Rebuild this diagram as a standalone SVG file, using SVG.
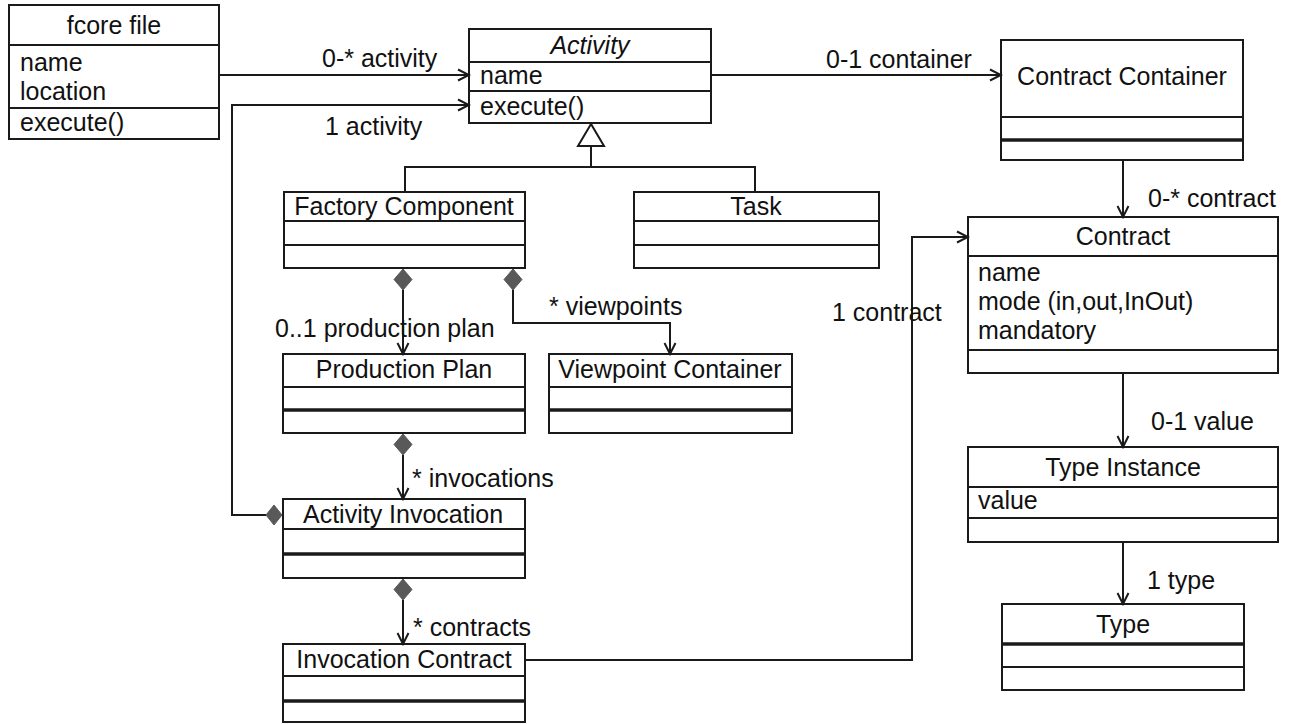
<svg xmlns="http://www.w3.org/2000/svg" width="1292" height="724" viewBox="0 0 1292 724">
<style>
.box{fill:#fff;stroke:#1a1a1a;stroke-width:2}
.div{stroke:#1a1a1a;stroke-width:2}
.thick{stroke:#1a1a1a;stroke-width:3.5}
text{font-family:"Liberation Sans",Arial,sans-serif;font-size:25px;fill:#111}
.c{text-anchor:middle}
.edge{fill:none;stroke:#1a1a1a;stroke-width:2}
.dia{fill:#595959;stroke:#595959;stroke-width:1}
</style>
<defs>
<marker id="open" markerUnits="userSpaceOnUse" markerWidth="14" markerHeight="14" viewBox="0 0 14 14" refX="12" refY="7" orient="auto">
<path d="M1,1.5 L12,7 L1,12.5" fill="none" stroke="#1a1a1a" stroke-width="2"/>
</marker>
</defs>
<rect width="1292" height="724" fill="#fff"/>

<g id="fcore-file">
<rect class="box" x="9" y="5" width="210" height="134"/>
<line class="div" x1="9" y1="45" x2="219" y2="45"/>
<line class="div" x1="9" y1="108" x2="219" y2="108"/>
<text class="c" x="114" y="34">fcore file</text>
<text x="20" y="71">name</text>
<text x="20" y="100">location</text>
<text x="20" y="131">execute()</text>
</g>

<g id="activity">
<rect class="box" x="469" y="29" width="242" height="94"/>
<line class="div" x1="469" y1="62" x2="711" y2="62"/>
<line class="div" x1="469" y1="91" x2="711" y2="91"/>
<text class="c" x="590" y="54" font-style="italic">Activity</text>
<text x="480" y="84">name</text>
<text x="480" y="115">execute()</text>
</g>

<g id="contract-container">
<rect class="box" x="1001" y="40" width="242" height="120"/>
<line class="div" x1="1001" y1="117" x2="1243" y2="117"/>
<line class="thick" x1="1001" y1="140" x2="1243" y2="140"/>
<text class="c" x="1122" y="85">Contract Container</text>
</g>

<g id="factory-component">
<rect class="box" x="284" y="192" width="241" height="76"/>
<line class="div" x1="284" y1="221" x2="525" y2="221"/>
<line class="div" x1="284" y1="245" x2="525" y2="245"/>
<text class="c" x="404" y="215">Factory Component</text>
</g>

<g id="task">
<rect class="box" x="634" y="192" width="245" height="76"/>
<line class="div" x1="634" y1="221" x2="879" y2="221"/>
<line class="div" x1="634" y1="245" x2="879" y2="245"/>
<text class="c" x="756" y="215">Task</text>
</g>

<g id="production-plan">
<rect class="box" x="283" y="354" width="242" height="79"/>
<line class="div" x1="283" y1="387" x2="525" y2="387"/>
<line class="thick" x1="283" y1="410" x2="525" y2="410"/>
<text class="c" x="404" y="378">Production Plan</text>
</g>

<g id="viewpoint-container">
<rect class="box" x="549" y="354" width="243" height="79"/>
<line class="div" x1="549" y1="387" x2="792" y2="387"/>
<line class="thick" x1="549" y1="410" x2="792" y2="410"/>
<text class="c" x="670" y="378">Viewpoint Container</text>
</g>

<g id="activity-invocation">
<rect class="box" x="283" y="499" width="242" height="79"/>
<line class="div" x1="283" y1="529" x2="525" y2="529"/>
<line class="thick" x1="283" y1="554" x2="525" y2="554"/>
<text class="c" x="403" y="523">Activity Invocation</text>
</g>

<g id="invocation-contract">
<rect class="box" x="283" y="644" width="242" height="78"/>
<line class="div" x1="283" y1="676" x2="525" y2="676"/>
<line class="thick" x1="283" y1="701" x2="525" y2="701"/>
<text class="c" x="404" y="668">Invocation Contract</text>
</g>

<g id="contract">
<rect class="box" x="968" y="217" width="310" height="156"/>
<line class="div" x1="968" y1="256" x2="1278" y2="256"/>
<line class="div" x1="968" y1="350" x2="1278" y2="350"/>
<text class="c" x="1123" y="245">Contract</text>
<text x="978" y="281">name</text>
<text x="978" y="310">mode (in,out,InOut)</text>
<text x="978" y="339">mandatory</text>
</g>

<g id="type-instance">
<rect class="box" x="968" y="447" width="310" height="95"/>
<line class="div" x1="968" y1="487" x2="1278" y2="487"/>
<line class="div" x1="968" y1="518" x2="1278" y2="518"/>
<text class="c" x="1123" y="476">Type Instance</text>
<text x="978" y="509">value</text>
</g>

<g id="type">
<rect class="box" x="1002" y="604" width="242" height="86"/>
<line class="thick" x1="1002" y1="644" x2="1244" y2="644"/>
<line class="div" x1="1002" y1="667" x2="1244" y2="667"/>
<text class="c" x="1123" y="633">Type</text>
</g>

<g id="connectors">
<path class="edge" d="M219,75 H469" marker-end="url(#open)"/>
<text x="322" y="67">0-* activity</text>

<path class="edge" d="M266,515 H232 V105 H469" marker-end="url(#open)"/>
<polygon class="dia" points="266,515 274,505 282,515 274,525"/>
<text x="325" y="135">1 activity</text>

<path class="edge" d="M711,75 H1001" marker-end="url(#open)"/>
<text x="826" y="68">0-1 container</text>

<path class="edge" d="M591,146 V167 M405,192 V167 H755 V192"/>
<polygon points="591,124 578,146 604,146" fill="#fff" stroke="#1a1a1a" stroke-width="2"/>

<path class="edge" d="M403,290 V354" marker-end="url(#open)"/>
<polygon class="dia" points="403,269 412,279.5 403,290 394,279.5"/>
<text x="275" y="337">0..1 production plan</text>

<path class="edge" d="M513,290 V323 H670 V354" marker-end="url(#open)"/>
<polygon class="dia" points="513,269 522,279.5 513,290 504,279.5"/>
<text x="549" y="315">* viewpoints</text>

<path class="edge" d="M403,455 V499" marker-end="url(#open)"/>
<polygon class="dia" points="403,434 412,444.5 403,455 394,444.5"/>
<text x="412" y="487">* invocations</text>

<path class="edge" d="M403,600 V644" marker-end="url(#open)"/>
<polygon class="dia" points="403,579 412,589.5 403,600 394,589.5"/>
<text x="413" y="636">* contracts</text>

<path class="edge" d="M525,660 H912 V237 H968" marker-end="url(#open)"/>
<text x="832" y="321">1 contract</text>

<path class="edge" d="M1123,160 V217" marker-end="url(#open)"/>
<text x="1148" y="207">0-* contract</text>

<path class="edge" d="M1123,373 V447" marker-end="url(#open)"/>
<text x="1151" y="430">0-1 value</text>

<path class="edge" d="M1123,542 V604" marker-end="url(#open)"/>
<text x="1147" y="589">1 type</text>
</g>
</svg>
